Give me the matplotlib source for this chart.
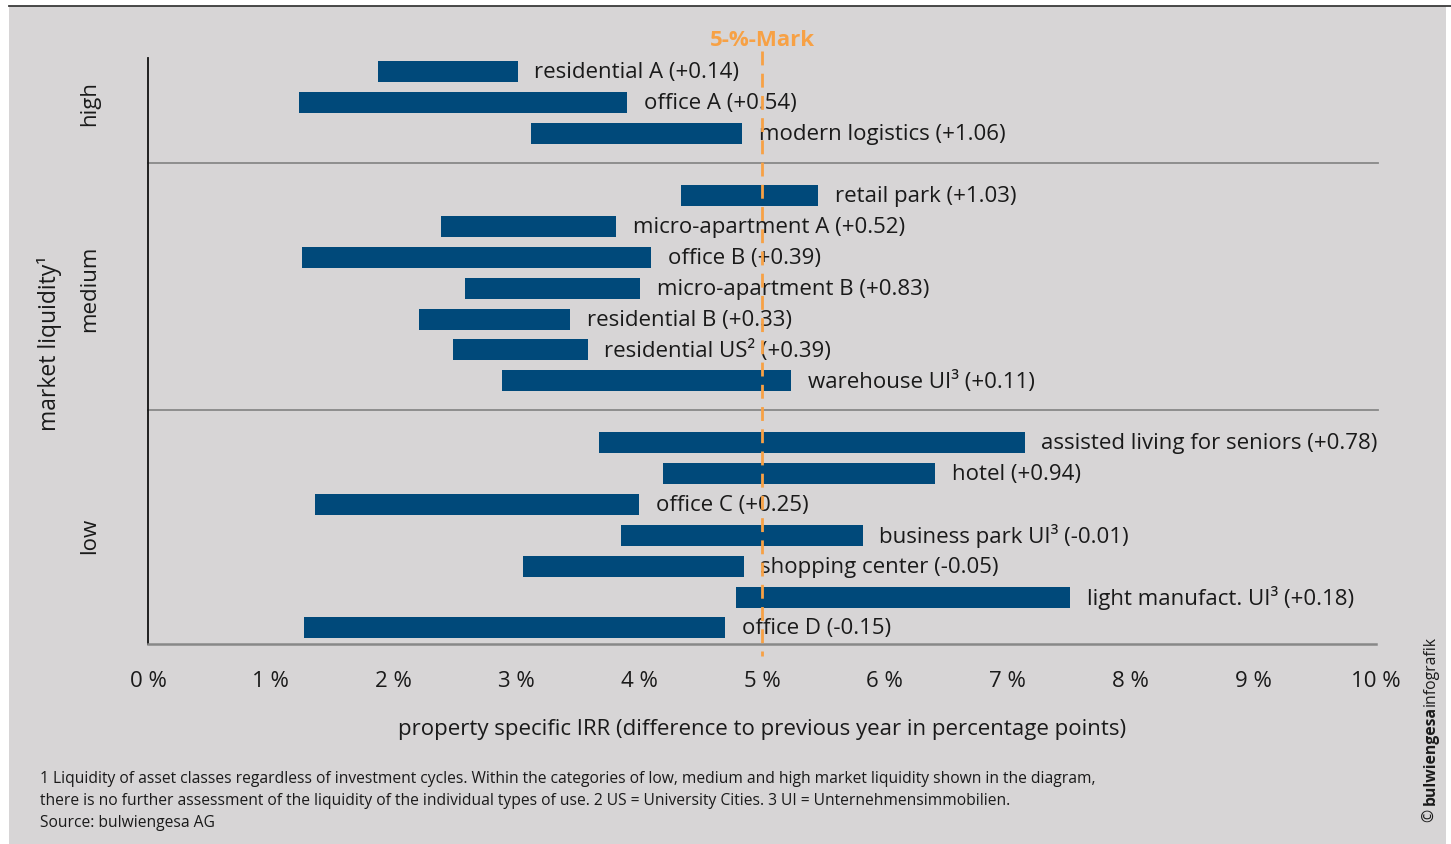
import matplotlib.pyplot as plt
import matplotlib.transforms as mtransforms
from matplotlib.patches import Rectangle
from matplotlib.lines import Line2D

plt.rcParams['font.family'] = ['Open Sans', 'DejaVu Sans']

# IRR range per use type (start / end in %), grouped by market liquidity
labels = [
    'residential A (+0.14)', 'office A (+0.54)', 'modern logistics (+1.06)',
    'retail park (+1.03)', 'micro-apartment A (+0.52)', 'office B (+0.39)',
    'micro-apartment B (+0.83)', 'residential B (+0.33)', 'residential US² (+0.39)',
    'warehouse UI³ (+0.11)',
    'assisted living for seniors (+0.78)', 'hotel (+0.94)', 'office C (+0.25)',
    'business park UI³ (-0.01)', 'shopping center (-0.05)',
    'light manufact. UI³ (+0.18)', 'office D (-0.15)',
]
irr_low = [1.87, 1.23, 3.12,
           4.34, 2.39, 1.25, 2.58, 2.21, 2.48, 2.88,
           3.67, 4.19, 1.36, 3.85, 3.05, 4.79, 1.27]
irr_high = [3.01, 3.90, 4.84,
            5.46, 3.81, 4.10, 4.01, 3.44, 3.58, 5.24,
            7.14, 6.41, 4.00, 5.82, 4.85, 7.51, 4.70]
group_names = ['high', 'medium', 'low']
group_sizes = [3, 7, 7]
x_ticks = [0, 1, 2, 3, 4, 5, 6, 7, 8, 9, 10]
x_ticklabels = ['0 %', '1 %', '2 %', '3 %', '4 %', '5 %', '6 %', '7 %', '8 %', '9 %', '10 %']
mark_value = 5

bar_color = '#00497a'
bg_color = '#d7d5d6'
mark_color = '#f7a145'
text_color = '#1a1a1a'

# one empty row between groups
rows = []
group_centers = []
separators = []
pos = 0
for g, n in enumerate(group_sizes):
    rows.extend(range(pos, pos + n))
    group_centers.append(pos + (n - 1) / 2)
    pos += n
    if g < len(group_sizes) - 1:
        separators.append(pos)
        pos += 1

fig = plt.figure(figsize=(14.51, 8.45), dpi=100)
fig.patch.set_facecolor('white')
fig.patches.append(Rectangle((9 / 1451, 0), (1446 - 9) / 1451, (845 - 7) / 845,
                             transform=fig.transFigure, facecolor=bg_color,
                             edgecolor='none', zorder=-10))
fig.lines.append(Line2D([9 / 1451, 1], [1 - 6.5 / 845, 1 - 6.5 / 845],
                        transform=fig.transFigure, color='#3a3a3a', lw=1.3, zorder=-5))

ax = fig.add_axes([148 / 1451, 200 / 845, (1376 - 148) / 1451, (645 - 59) / 845])
ax.set_facecolor('none')

widths = [h - l for l, h in zip(irr_low, irr_high)]
ax.barh(rows, widths, left=irr_low, height=0.68, color=bar_color, zorder=3)
for r, h, lab in zip(rows, irr_high, labels):
    ax.annotate(lab, (h, r), xytext=(12, 0), textcoords='offset points',
                va='center', ha='left', fontsize=16, color=text_color, zorder=4)

ax.set_xlim(0, 10)
ax.set_ylim(18.52, -0.45)

for s in separators:
    ax.plot([0, 10.02], [s - 0.06, s - 0.06], color='#888888', lw=1.3,
            clip_on=False, zorder=2)

# 5 % reference line
blend = mtransforms.blended_transform_factory(ax.transData, ax.transAxes)
ax.plot([mark_value, mark_value], [1.012, -0.02], transform=blend, color=mark_color,
        lw=2, ls=(0, (5, 3)), clip_on=False, zorder=5)
ax.text(mark_value, 1.032, '5-%-Mark', transform=blend, ha='center', va='center',
        fontsize=16, fontweight='bold', color=mark_color)

for side in ['top', 'right']:
    ax.spines[side].set_visible(False)
ax.spines['left'].set_color('#111111')
ax.spines['left'].set_linewidth(1.3)
ax.spines['bottom'].set_color('#888888')
ax.spines['bottom'].set_linewidth(1.8)

ax.set_yticks([])
ax.set_xticks(x_ticks)
ax.set_xticklabels(x_ticklabels, fontsize=16, color=text_color)
ax.tick_params(axis='x', length=0, pad=19)
ax.set_xlabel('property specific IRR (difference to previous year in percentage points)',
              fontsize=16, color=text_color, labelpad=19)

# liquidity group labels
for name, c in zip(group_names, group_centers):
    ax.annotate(name, (0, c), xycoords=('axes fraction', 'data'), xytext=(-58, 0),
                textcoords='offset pixels', rotation=90, ha='center', va='center',
                fontsize=16, color=text_color)
fig.text(50 / 1451, 1 - 343 / 845, 'market liquidity¹', rotation=90, ha='center',
         va='center', fontsize=16.5, color=text_color)

notes = [
    '1 Liquidity of asset classes regardless of investment cycles. Within the categories of low, medium and high market liquidity shown in the diagram,',
    'there is no further assessment of the liquidity of the individual types of use. 2 US = University Cities. 3 UI = Unternehmensimmobilien.',
    'Source: bulwiengesa AG',
]
for i, line in enumerate(notes):
    fig.text(40 / 1451, 1 - (779 + 22 * i) / 845, line, ha='left', va='center',
             fontsize=11.25, color=text_color)

# copyright, stacked upward
renderer = fig.canvas.get_renderer()
y_px = 822
for txt, weight in [('© ', 'normal'), ('bulwiengesa', 'bold'), ('infografik', 'normal')]:
    t = fig.text(1431 / 1451, 1 - y_px / 845, txt, rotation=90, ha='center', va='bottom',
                 fontsize=11.3, fontweight=weight, color=text_color)
    y_px -= t.get_window_extent(renderer).height

fig.savefig('out.png', dpi=100, facecolor=fig.get_facecolor())
